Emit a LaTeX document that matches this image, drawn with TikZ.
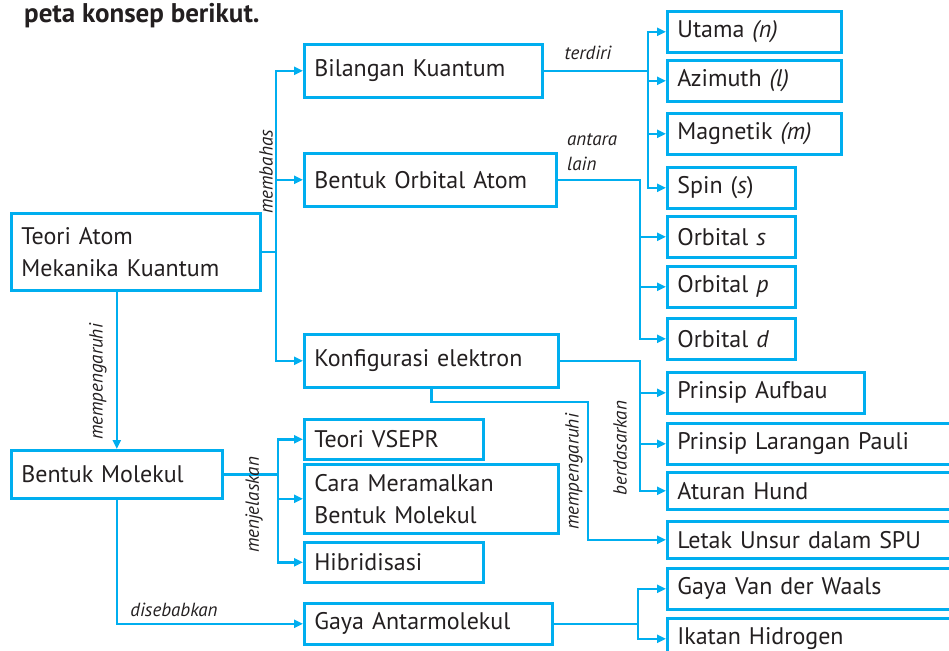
\documentclass[tikz,border=0pt]{standalone}
\usepackage{fontspec}
\setmainfont{PT Sans}
\usetikzlibrary{arrows.meta}
\definecolor{petablue}{RGB}{0,174,239}
\definecolor{petatext}{RGB}{35,31,32}

\begin{document}
\begin{tikzpicture}[
    x=1pt, y=-1pt,
    box/.style={draw=petablue, line width=2.7pt, anchor=north west, inner xsep=10pt, inner ysep=0pt, minimum height=41pt, align=left, text=petatext, font=\fontsize{24}{32}\selectfont},
    tag/.style={text=petatext, inner sep=0pt, font=\fontsize{19}{25}\selectfont\itshape},
    line/.style={draw=petablue, line width=2.3pt, -{Triangle[length=9pt, width=8pt]}}
  ]
    \useasboundingbox (0,0) rectangle (949,650);
    \clip (0,0) rectangle (949,650);

    \node[anchor=base west, inner sep=0pt, text=petatext, font=\fontsize{27}{32}\selectfont\bfseries] (judul) at (24,23) {peta konsep berikut.};

    \node[box, text width=229pt, minimum height=77pt] (ta) at (10,212) {Teori Atom\\Mekanika Kuantum};
    \node[box, text width=218pt, minimum height=53pt] (bk) at (303,43) {Bilangan Kuantum};
    \node[box, text width=232pt, minimum height=53pt] (boa) at (303,152) {Bentuk Orbital Atom};
    \node[box, text width=234pt, minimum height=53pt] (ke) at (303,333) {Konfigurasi elektron};
    \node[box, text width=191pt, minimum height=48pt] (bm) at (10,449) {Bentuk Molekul};
    \node[box, text width=159pt, minimum height=40pt] (vsepr) at (303,418) {Teori VSEPR};
    \node[box, text width=234pt, minimum height=69pt] (cara) at (303,463) {Cara Meramalkan\\Bentuk Molekul};
    \node[box, text width=159pt, minimum height=40pt] (hibr) at (303,541) {Hibridisasi};
    \node[box, text width=228pt] (ga) at (303,602) {Gaya Antarmolekul};

    \node[box, text width=154pt] (utama) at (666,10) {Utama \textit{(n)}};
    \node[box, text width=154pt] (azimuth) at (666,59) {Azimuth \textit{(l)}};
    \node[box, text width=154pt] (magnetik) at (666,112) {Magnetik \textit{(m)}};
    \node[box, text width=108pt] (spin) at (666,166) {Spin (\textit{s})};
    \node[box, text width=108pt] (orbs) at (666,215) {Orbital \textit{s}};
    \node[box, text width=108pt] (orbp) at (666,265) {Orbital \textit{p}};
    \node[box, text width=108pt] (orbd) at (666,317) {Orbital \textit{d}};
    \node[box, text width=177pt] (aufbau) at (666,371) {Prinsip Aufbau};
    \node[box, text width=274pt] (pauli) at (666,422) {Prinsip Larangan Pauli};
    \node[box, text width=274pt, minimum height=37pt] (hund) at (666,471) {Aturan Hund};
    \node[box, text width=274pt, minimum height=37pt] (letak) at (666,520) {Letak Unsur dalam SPU};
    \node[box, text width=274pt] (vdw) at (666,567) {Gaya Van der Waals};
    \node[box, text width=274pt] (ikatan) at (666,617) {Ikatan Hidrogen};

    \coordinate (ja) at (276,0);
    \coordinate (jb) at (648,0);
    \coordinate (jc) at (640,0);
    \coordinate (jd) at (640,0);
    \coordinate (je) at (588,402);
    \coordinate (jf) at (278,0);
    \coordinate (jg) at (638,0);

    \draw[line] (ta.east) -- (ta.east -| ja) |- (bk.west);
    \draw[line] (ta.east -| ja) |- (boa.west);
    \draw[line] (ta.east -| ja) |- (ke.west);

    \draw[line] (bk.east) -- (bk.east -| jb) |- (utama.west);
    \draw[line] (bk.east -| jb) |- (azimuth.west);
    \draw[line] (bk.east -| jb) |- (magnetik.west);
    \draw[line] (bk.east -| jb) |- (spin.west);

    \draw[line] (boa.east) -- (boa.east -| jc) |- (orbs.west);
    \draw[line] (boa.east -| jc) |- (orbp.west);
    \draw[line] (boa.east -| jc) |- (orbd.west);

    \draw[line] (ke.east) -- (ke.east -| jd) |- (aufbau.west);
    \draw[line] (ke.east -| jd) |- (pauli.west);
    \draw[line] (ke.east -| jd) |- (hund.west);
    \draw[line] (ke.south) |- (je) |- (letak.west);

    \draw[line] (ta.south -| bm.north) -- (bm.north);
    \draw[line] (bm.east) -- (bm.east -| jf) |- (vsepr.west);
    \draw[line] (bm.east -| jf) |- (cara.west);
    \draw[line] (bm.east -| jf) |- (hibr.west);
    \draw[line] (bm.south) |- (ga.west);

    \draw[line] (ga.east) -- (ga.east -| jg) |- (vdw.west);
    \draw[line] (ga.east -| jg) |- (ikatan.west);

    \node[tag, rotate=90] (membahas) at (266,172) {membahas};
    \node[tag] (terdiri) at (588,53) {terdiri};
    \node[tag, align=left, anchor=north west] (antara) at (567,133) {antara\\lain};
    \node[tag, rotate=90] (berdasar) at (620,448) {berdasarkan};
    \node[tag, rotate=90] (pengaruh) at (574,472) {mempengaruhi};
    \node[tag, rotate=90] (pengaruhb) at (98,382) {mempengaruhi};
    \node[tag, rotate=90] (jelas) at (254,505) {menjelaskan};
    \node[tag] (sebab) at (174,610) {disebabkan};
  \end{tikzpicture}
\end{document}
